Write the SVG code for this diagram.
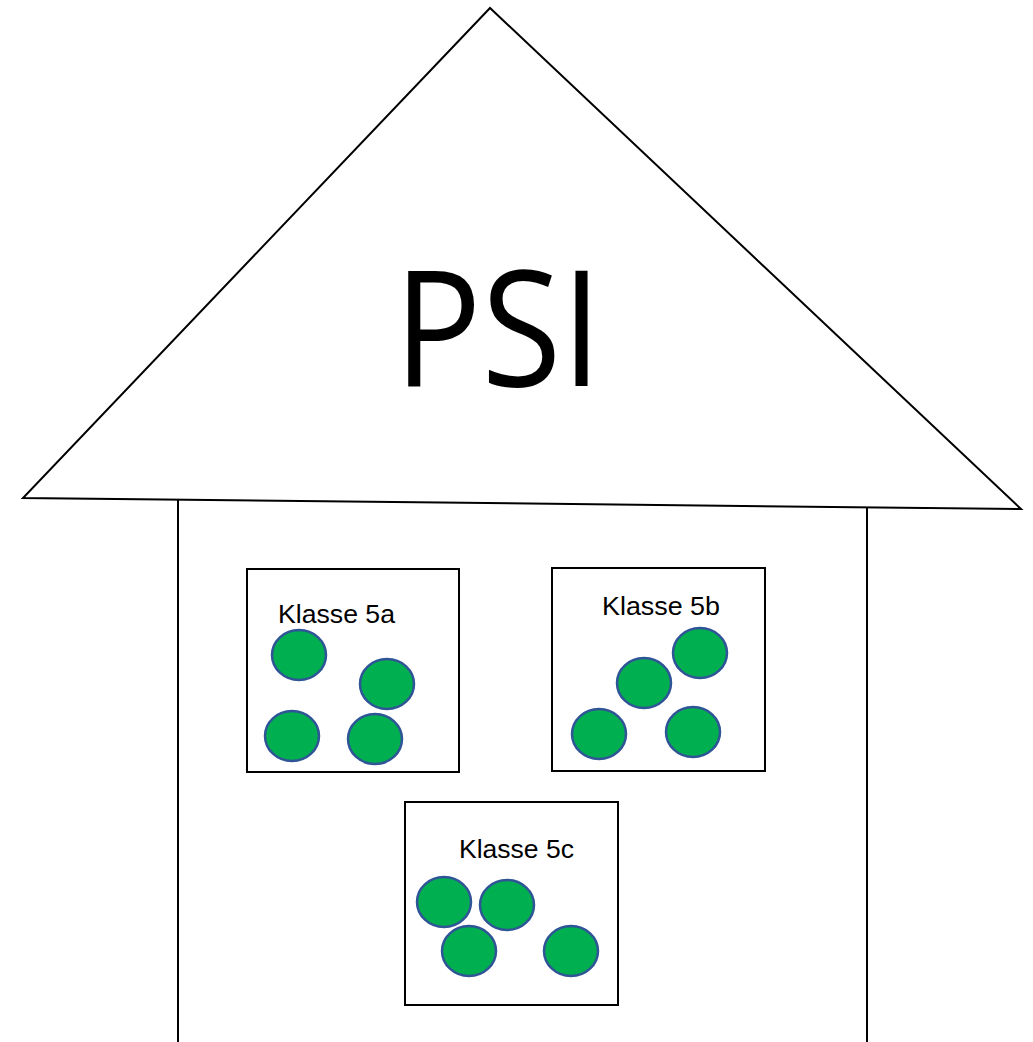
<svg xmlns="http://www.w3.org/2000/svg" width="1033" height="1042" viewBox="0 0 1033 1042">
  <style>
    .edge { fill: none; stroke: #000; stroke-width: 2; }
    .box { fill: #fff; stroke: #000; stroke-width: 2; }
    .pupil { fill: #00b050; stroke: #2f5597; stroke-width: 2.5; }
    .label { font-family: "Liberation Sans", Arial, sans-serif; font-size: 25px; fill: #000; }
    .title { font-family: "Open Sans", "Liberation Sans", Arial, sans-serif; font-size: 162px; fill: #000; }
  </style>
  <rect width="1033" height="1042" fill="#fff"/>

  <!-- house: roof and walls -->
  <g id="house">
    <polygon class="edge" points="490,8 23,498 1021,509" stroke-linejoin="miter"/>
    <line class="edge" x1="178" y1="499" x2="178" y2="1042"/>
    <line class="edge" x1="867" y1="507" x2="867" y2="1042"/>
    <text class="title" x="394" y="386" textLength="208" lengthAdjust="spacingAndGlyphs">PSI</text>
  </g>

  <g id="klasse-5a">
    <rect class="box" x="247" y="569" width="212" height="203"/>
    <text class="label" x="278" y="623" textLength="117" lengthAdjust="spacingAndGlyphs">Klasse 5a</text>
    <ellipse class="pupil" cx="299" cy="655" rx="27" ry="25"/>
    <ellipse class="pupil" cx="387" cy="684" rx="27" ry="25"/>
    <ellipse class="pupil" cx="292" cy="736" rx="27" ry="25"/>
    <ellipse class="pupil" cx="375" cy="739" rx="27" ry="25"/>
  </g>

  <g id="klasse-5b">
    <rect class="box" x="552" y="568" width="213" height="203"/>
    <text class="label" x="602" y="615" textLength="118" lengthAdjust="spacingAndGlyphs">Klasse 5b</text>
    <ellipse class="pupil" cx="700" cy="653" rx="27" ry="25"/>
    <ellipse class="pupil" cx="644" cy="683" rx="27" ry="25"/>
    <ellipse class="pupil" cx="599" cy="734" rx="27" ry="25"/>
    <ellipse class="pupil" cx="693" cy="732" rx="27" ry="25"/>
  </g>

  <g id="klasse-5c">
    <rect class="box" x="405" y="802" width="213" height="203"/>
    <text class="label" x="459" y="858" textLength="115" lengthAdjust="spacingAndGlyphs">Klasse 5c</text>
    <ellipse class="pupil" cx="444" cy="902" rx="27" ry="25"/>
    <ellipse class="pupil" cx="507" cy="905" rx="27" ry="25"/>
    <ellipse class="pupil" cx="469" cy="951" rx="27" ry="25"/>
    <ellipse class="pupil" cx="571" cy="951" rx="27" ry="25"/>
  </g>

  <!-- no connectors in this drawing -->
  <g id="connectors"/>
</svg>
